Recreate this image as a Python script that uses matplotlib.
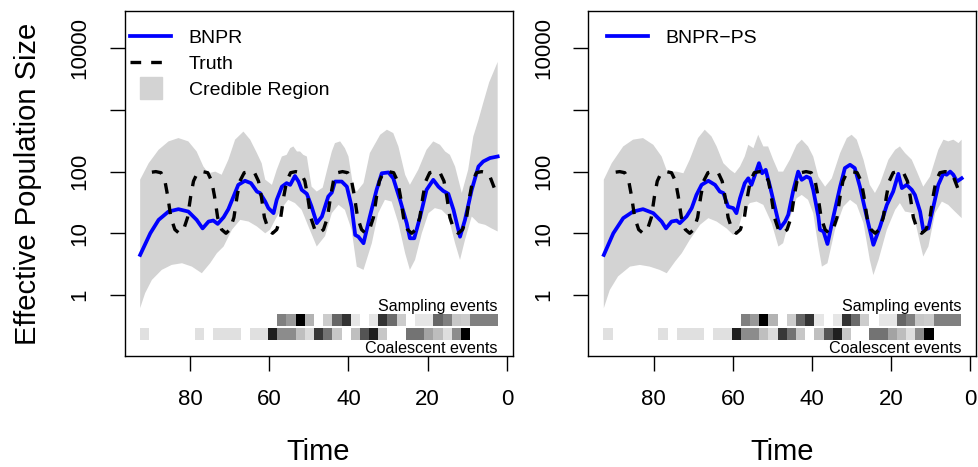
import numpy as np
import matplotlib
matplotlib.use("Agg")
import matplotlib.pyplot as plt
from matplotlib.lines import Line2D
from matplotlib.ticker import NullLocator

plt.rcParams["font.family"] = ["Liberation Sans", "DejaVu Sans"]

# ---- data (time before present, effective population size) ----
truth_t = [89.6, 88.6, 87.3, 86.3, 85.6, 84.8, 83.8, 82.7, 81.6, 80.6, 79.8, 79.1, 78.1,
           76.8, 75.5, 74.5, 73.8, 73.0, 72.0, 70.9, 69.9, 68.9, 68.1, 67.4, 66.3,
           65.0, 63.7, 62.7, 62.0, 61.2, 60.2, 59.15, 58.1, 57.1, 56.3, 55.6, 54.6,
           53.3, 52.0, 51.0, 50.3, 49.5, 48.5, 47.4, 46.3, 45.3, 44.5, 43.8, 42.8,
           41.5, 40.2, 39.2, 38.5, 37.7, 36.7, 35.7, 34.7, 33.7, 32.9, 32.2, 31.2,
           29.9, 28.6, 27.6, 26.9, 26.1, 25.1, 24.05, 23.0, 22.0, 21.2, 20.5, 19.5,
           18.2, 16.9, 15.9, 15.2, 14.4, 13.4, 12.3, 11.2, 10.2, 9.4, 8.7, 7.7,
           6.4, 5.1, 4.2, 3.5, 2.4]
truth_ne = [98, 100, 96, 70, 40, 18, 11.5, 10, 11.5, 18, 40, 70, 96,
            100, 96, 70, 40, 18, 11.5, 10, 11.5, 18, 40, 70, 96,
            100, 96, 70, 40, 18, 11.5, 10, 11.5, 18, 40, 70, 96,
            100, 96, 70, 40, 18, 11.5, 10, 11.5, 18, 40, 70, 96,
            100, 96, 70, 40, 18, 11.5, 10, 11.5, 18, 40, 70, 96,
            100, 96, 70, 40, 18, 11.5, 10, 11.5, 18, 40, 70, 96,
            100, 96, 70, 40, 18, 11.5, 10, 11.5, 18, 40, 70, 96,
            100, 96, 80, 61, 40]

# BNPR (left)
bnpr_t = [92.56, 90.0, 87.9, 85.4, 82.9, 80.4, 78.3, 76.8, 75.3, 74.1, 73.0, 71.5, 70.3,
          69.0, 67.8, 66.1, 64.6, 63.1, 62.3, 61.0, 60.2, 58.9, 58.1, 56.8, 55.6, 54.7,
          53.5, 52.6, 51.8, 50.5, 49.3, 48.0, 46.7, 45.1, 44.2, 43.4, 41.7, 40.4, 39.2,
          38.3, 37.5, 36.2, 34.6, 32.9, 31.6, 29.9, 28.7, 27.0, 25.3, 24.5, 23.4, 21.9,
          20.3, 18.6, 17.3, 16.1, 14.8, 13.5, 11.85, 10.6, 8.9, 7.2, 6.0, 4.3, 2.35]
bnpr_ne = [4.46, 10.0, 16.5, 22.5, 24.6, 22.5, 16.5, 12.0, 15.5, 16.1, 14.2, 18.2, 24.6,
           39.4, 61, 71, 65, 47.5, 44.9, 32.7, 25.6, 21.2, 34.9, 57, 65, 61,
           85, 69, 50.6, 43.6, 27, 14.6, 18.7, 39.4, 45.8, 69, 69, 57, 27,
           9.4, 8.8, 6.9, 18.7, 50.7, 94, 97, 78, 34.9, 14.6, 8.3, 8.3, 18.7,
           50.7, 73.6, 57, 48.7, 43.6, 24, 8.8, 16.5, 50.7, 121, 146, 166, 176]
bnpr_up_t = [92.56, 90.4, 87.9, 85.4, 82.9, 80.4, 78.3, 76.6, 75.3, 73.6, 72.0, 70.3, 68.6,
             66.5, 64.8, 63.1, 61.9, 61.0, 59.3, 58.1, 56.8, 55.6, 54.7, 53.9, 53.0, 52.2,
             51.4, 50.5, 49.3, 48.0, 46.5, 45.5, 44.2, 43.4, 42.1, 40.9, 40.0, 38.8, 37.9,
             36.2, 34.6, 32.0, 30.3, 28.7, 27.4, 25.7, 24.5, 22.4, 20.3, 18.6, 16.9, 15.6,
             14.4, 13.1, 11.4, 9.8, 8.5, 7.2, 6.0, 4.5, 2.35]
bnpr_up = [74, 137, 226, 309, 350, 309, 212, 121, 94, 100, 89, 156, 330,
           446, 330, 200, 137, 74, 61, 107, 176, 187, 240, 256, 212, 212,
           187, 176, 57, 47.5, 55, 100, 212, 290, 309, 240, 176, 57, 47.5,
           65, 200, 396, 478, 422, 256, 89, 61, 107, 226, 309, 272, 212,
           187, 121, 45, 107, 372, 690, 1300, 2800, 6000]
bnpr_lo_t = [92.56, 91.3, 89.6, 87.1, 84.6, 82.0, 79.5, 77.0, 74.9, 73.2, 71.5, 69.4, 67.3,
             65.2, 63.1, 61.0, 59.8, 58.5, 56.8, 55.2, 53.5, 51.8, 50.1, 48.0, 45.9, 44.2,
             42.5, 40.9, 39.2, 37.9, 36.2, 34.1, 32.5, 30.8, 29.1, 27.4, 25.7, 24.5, 23.2,
             21.5, 19.8, 18.2, 16.5, 14.8, 13.1, 11.85, 10.6, 8.9, 7.2, 5.5, 3.9, 2.35]
bnpr_lo = [0.61, 1.07, 1.75, 2.55, 3.07, 3.27, 2.88, 2.25, 3.27, 4.75, 6.1, 11.4, 16.5,
           15.5, 12.9, 10, 11.4, 16.5, 25.6, 34.9, 30.9, 24, 12.9, 6.1, 9, 21.2,
           28.9, 24, 11.4, 2.88, 2.55, 6.9, 21.2, 34.9, 32.7, 14.6, 4.75, 2.55, 3.7,
           10, 21.2, 25.6, 24, 18.7, 6.9, 3.7, 7.8, 18.7, 14.6, 13.7, 12, 10.7]

# BNPR-PS (right)
ps_t = [92.6, 90.2, 87.7, 85.2, 82.7, 80.1, 78.0, 76.9, 75.5, 74.2, 73.4, 71.7, 70.4,
        69.2, 67.9, 66.2, 64.5, 63.3, 62.4, 61.2, 59.9, 59.1, 58.2, 57.0, 56.1, 55.3,
        54.4, 53.4, 52.6, 51.7, 50.6, 49.4, 48.1, 46.8, 46.0, 44.7, 43.5, 42.6, 41.4,
        40.5, 39.7, 38.4, 38.0, 37.1, 36.1, 34.6, 32.9, 31.7, 30.4, 29.2, 27.9, 26.2,
        24.5, 22.8, 21.1, 19.5, 18.2, 17.3, 16.1, 14.8, 14.0, 12.7, 11.9, 10.6, 9.35,
        8.1, 6.8, 6.0, 5.1, 4.3, 3.4, 2.2]
ps_ne = [4.46, 10, 17.6, 22.5, 24.6, 21.2, 15.5, 12, 15.5, 16.1, 14.6, 18.7, 25.6,
         41.9, 61, 71, 61, 47.5, 44.9, 27, 25.6, 21.2, 37, 65, 78, 61,
         89, 137, 94, 107, 57, 27, 12, 15.5, 20, 50.7, 100, 73.6, 83,
         78, 50.7, 18.7, 11.4, 10.7, 6.7, 18.7, 57, 114, 129, 114, 57, 18.7,
         6.5, 12.9, 28.9, 47.5, 92, 54, 61, 50.7, 41.9, 22.5, 11.4, 12, 27,
         61, 94, 89, 100, 89, 69, 78]
ps_up_t = [92.6, 90.6, 87.7, 85.2, 82.7, 80.1, 78.0, 76.6, 74.2, 72.5, 70.9, 68.8, 67.1,
           65.4, 64.1, 62.4, 60.7, 59.5, 58.2, 57.0, 56.1, 54.8, 53.6, 52.3, 51.1, 49.8,
           48.5, 47.3, 45.6, 43.9, 42.6, 41.0, 39.7, 38.4, 36.7, 35.0, 32.9, 31.2, 30.0,
           28.7, 27.0, 25.4, 24.1, 22.8, 20.7, 19.0, 17.8, 16.5, 14.8, 13.5, 11.9, 10.2,
           8.1, 6.8, 5.6, 4.3, 3.0, 2.2]
ps_up = [74, 137, 256, 330, 350, 272, 176, 100, 100, 94, 156, 350, 478,
         372, 256, 137, 107, 94, 121, 176, 272, 240, 396, 256, 256, 156,
         100, 100, 156, 272, 330, 256, 176, 83, 57, 78, 200, 350, 396,
         330, 156, 61, 45, 65, 156, 226, 256, 200, 156, 100, 57, 83,
         226, 330, 309, 330, 290, 330]
ps_lo_t = [92.6, 91.1, 89.0, 86.0, 83.5, 81.0, 78.5, 76.7, 74.6, 72.9, 70.9, 68.3, 66.2,
           64.1, 61.6, 59.9, 58.6, 57.4, 55.7, 54.0, 52.3, 50.2, 48.5, 47.3, 45.6, 43.9,
           42.6, 41.0, 39.7, 38.4, 37.5, 36.1, 34.2, 32.1, 30.4, 28.7, 27.0, 25.4, 24.5,
           23.2, 21.1, 19.0, 17.8, 16.5, 14.4, 12.7, 11.9, 10.6, 8.9, 7.2, 5.6, 3.9, 2.2]
ps_lo = [0.61, 1.2, 2.0, 2.88, 3.07, 2.88, 2.55, 2.25, 3.47, 4.75, 7.8, 13.7, 17.6,
         15.5, 12, 9.4, 12, 22.5, 30.9, 32.7, 28.9, 14.6, 6.1, 6.9, 17.6, 37,
         41.9, 34.9, 21.2, 6.1, 2.88, 3.27, 11.4, 27, 34.9, 28.9, 14.6, 3.7, 2.1,
         3.7, 11.4, 24, 30.9, 22.5, 21.2, 6.9, 4.2, 6.1, 21.2, 32.7, 28.9, 22.5, 17.6]

# event heatmap shades (0 = black, 1 = white), 39 time bins from oldest to newest
samp_shade = [1.0] * 15 + [0.5, 0.6, 0.0, 0.7, 1.0, 0.8, 0.4, 0.2, 0.9, 1.0, 0.9, 0.2,
                           0.42, 0.8, 1.0, 0.9, 0.9, 0.4, 0.5, 0.78, 0.8, 0.5, 0.5, 0.5]
coal_shade = [0.88, 1, 1, 1, 1, 1, 0.88, 1, 0.88, 0.88, 0.88, 1, 0.88, 0.88, 0.12,
              0.55, 0.55, 0.75, 0.86, 0.22, 0.45, 0.78, 1, 0.75, 0.33, 0.12, 0.78, 1,
              1, 0.45, 0.45, 0.64, 0.74, 0.87, 0.55, 0.0, 1, 1, 1]

BLUE = "#0000FF"
BAND = "#D3D3D3"

fig = plt.figure(figsize=(9.79, 4.67), dpi=100)
ax1 = fig.add_axes([0.1272, 0.2377, 0.3965, 0.7388])
ax2 = fig.add_axes([0.6010, 0.2377, 0.3960, 0.7388])

edges = np.linspace(92.7, 2.35, len(coal_shade) + 1)
mids = (edges[:-1] + edges[1:]) / 2
bw = edges[0] - edges[1]


def panel(ax, mt, mne, ut, une, lt, lne):
    ax.fill(list(ut) + list(lt)[::-1], list(une) + list(lne)[::-1],
            color=BAND, lw=0, zorder=1)
    ax.plot(mt, mne, color=BLUE, lw=2.7, zorder=3, solid_joinstyle="round")
    ax.plot(truth_t, truth_ne, color="black", lw=2.4, dashes=(3.2, 3.0),
            dash_capstyle="butt", zorder=4)
    for shades, lo, hi in [(samp_shade, 10 ** -0.50, 10 ** -0.313),
                           (coal_shade, 10 ** -0.73, 10 ** -0.54)]:
        for m, g in zip(mids, shades):
            if g < 1:
                ax.bar(m, hi - lo, bottom=lo, width=bw, color=(g, g, g), lw=0, zorder=2)
    ax.text(2.35, 10 ** -0.255, "Sampling events", ha="right", va="baseline", fontsize=11.6)
    ax.text(2.35, 10 ** -0.94, "Coalescent events", ha="right", va="baseline", fontsize=11.6)
    ax.set_yscale("log")
    ax.set_xlim(96.5, -1.44)
    ax.set_ylim(10 ** -0.99, 10 ** 4.605)
    ax.set_xticks([80, 60, 40, 20, 0])
    ax.set_xticklabels(["80", "60", "40", "20", "0"])
    ax.set_yticks([1, 10, 100, 1000, 10000])
    ax.set_yticklabels(["1", "10", "100", "", "10000"], rotation=90, va="center")
    ax.yaxis.set_minor_locator(NullLocator())
    ax.tick_params(axis="both", labelsize=16, length=10.5, width=1.0, direction="out")
    ax.tick_params(axis="x", pad=13)
    ax.tick_params(axis="y", pad=14)
    for s in ax.spines.values():
        s.set_linewidth(1.0)


panel(ax1, bnpr_t, bnpr_ne, bnpr_up_t, bnpr_up, bnpr_lo_t, bnpr_lo)
panel(ax2, ps_t, ps_ne, ps_up_t, ps_up, ps_lo_t, ps_lo)

h_blue = Line2D([], [], color=BLUE, lw=2.7)
h_truth = Line2D([], [], color="black", lw=2.4, dashes=(3.2, 3.0))
h_band = Line2D([], [], color=BAND, marker="s", ms=15.5, ls="none")
leg_kw = dict(loc="upper left", frameon=False, fontsize=14, handlelength=2.1,
              handletextpad=0.9, labelspacing=0.45, borderpad=0, borderaxespad=0)
ax1.legend([h_blue, h_truth, h_band], ["BNPR", "Truth", "Credible Region"],
           bbox_to_anchor=(0.015, 0.948), **leg_kw)
ax2.legend([h_blue], ["BNPR\u2212PS"], bbox_to_anchor=(0.049, 0.948), **leg_kw)

fig.text(28 / 979, 0.607, "Effective Population Size", rotation=90,
         ha="center", va="center", fontsize=21)
for ax in (ax1, ax2):
    b = ax.get_position()
    fig.text((b.x0 + b.x1) / 2, 0.016, "Time", ha="center", va="baseline", fontsize=21)

fig.savefig("out.png", dpi=100)
